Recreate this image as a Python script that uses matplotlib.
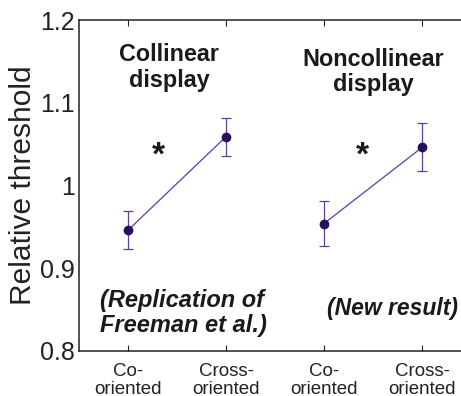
import matplotlib
matplotlib.use("Agg")
import matplotlib.pyplot as plt

plt.rcParams['font.family'] = ['Liberation Sans', 'DejaVu Sans']

# Condition labels along the x axis
tick_labels = ["Co-\noriented", "Cross-\noriented", "Co-\noriented", "Cross-\noriented"]

# Relative thresholds (mean and error half-width) for each display type
collinear_mean = [0.946, 1.059]
collinear_err = [0.023, 0.023]
noncollinear_mean = [0.954, 1.046]
noncollinear_err = [0.027, 0.029]

yticks = [0.8, 0.9, 1.0, 1.1, 1.2]
ytick_labels = ["0.8", "0.9", "1", "1.1", "1.2"]

line_color = "#5b3fa3"
marker_color = "#25105e"
text_color = "#1a1a1a"
axis_color = "#222222"

# The plot area runs off the right edge of the figure; one category step is 98 px.
fig = plt.figure(figsize=(4.61, 3.96), dpi=100)
ax = fig.add_axes([79 / 461, 45 / 396, 382 / 461, 331 / 396])

for xs, m, e in (([1, 2], collinear_mean, collinear_err),
                 ([3, 4], noncollinear_mean, noncollinear_err)):
    ax.errorbar(xs, m, yerr=e, color=line_color, lw=0.9, elinewidth=0.9,
                capsize=3.5, capthick=0.9, marker="o", markersize=6,
                markerfacecolor=marker_color, markeredgecolor=marker_color,
                zorder=3)

ax.set_xlim(0.5, 0.5 + 382 / 98)
ax.set_ylim(0.8, 1.2)
ax.set_xticks([1, 2, 3, 4])
ax.set_xticklabels(tick_labels, fontsize=13.5, linespacing=1.0, color=axis_color)
ax.set_yticks(yticks)
ax.set_yticklabels(ytick_labels, fontsize=18, color=axis_color)
ax.tick_params(axis="x", direction="in", length=4, width=0.8,
               top=True, pad=9, color=axis_color)
ax.tick_params(axis="y", length=0, pad=3, right=False)
for s in ("left", "bottom", "top"):
    ax.spines[s].set_linewidth(1.1)
    ax.spines[s].set_color(axis_color)
ax.spines["right"].set_visible(False)

ax.set_ylabel("Relative threshold", fontsize=21.5, color=axis_color, labelpad=2)

# Panel titles
ax.text(1.42, 1.143, "Collinear\ndisplay", ha="center", va="center",
        fontsize=16.8, fontweight="bold", linespacing=1.15, color=text_color)
ax.text(3.5, 1.137, "Noncollinear\ndisplay", ha="center", va="center",
        fontsize=16.8, fontweight="bold", linespacing=1.15, color=text_color)

# Significance markers
ax.text(1.31, 1.035, "*", ha="center", va="center", fontsize=24,
        fontweight="bold", color=text_color)
ax.text(3.39, 1.035, "*", ha="center", va="center", fontsize=24,
        fontweight="bold", color=text_color)

# Notes
ax.text(0.714, 0.846, "(Replication of\nFreeman et al.)", ha="left",
        va="center", fontsize=17, fontweight="bold", fontstyle="italic",
        linespacing=1.1, color=text_color)
ax.text(3.03, 0.851, "(New result)", ha="left", va="center",
        fontsize=16.5, fontweight="bold", fontstyle="italic", color=text_color)

fig.savefig("out.png", dpi=100)
